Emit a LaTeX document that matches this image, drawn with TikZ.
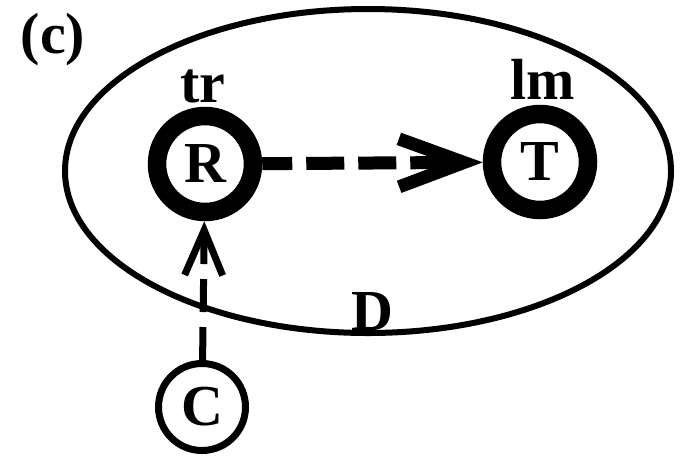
\documentclass[tikz,border=0pt]{standalone}
\usepackage{fontspec}
\setmainfont{Liberation Serif}
\usetikzlibrary{arrows.meta}

\begin{document}
\begin{tikzpicture}[x=0.2mm,y=-0.2mm,
  every node/.style={font=\fontsize{33}{40}\selectfont\bfseries,inner sep=0pt},
  heavy/.style={circle,draw,line width=3.7mm,minimum size=19.2mm},
  light/.style={circle,draw,line width=1.4mm,minimum size=17.4mm}]
\useasboundingbox (0,0) rectangle (687,458);
\draw[line width=1.2mm] (368,171) ellipse [x radius=60.6mm, y radius=32.4mm];
\node (lbl) at (53,40) {(c)};
\node[heavy] (R) at (205,164) {R};
\node[heavy] (T) at (540,162) {T};
\node[light] (C) at (202,407) {C};
\node (tr) at (203,86) {tr};
\node (lm) at (543,79) {lm};
\node (D) at (372,312) {D};
\draw[line width=2.6mm,dash pattern=on 7.6mm off 2.8mm,dash phase=1.6mm,
  -{Straight Barb[length=13mm,width=9.6mm]}] (R) -- (T);
\draw[line width=1.4mm,dash pattern=on 6.6mm off 3mm,
  -{Straight Barb[length=9mm,width=7.6mm]}] (C) -- (R);
\end{tikzpicture}
\end{document}
